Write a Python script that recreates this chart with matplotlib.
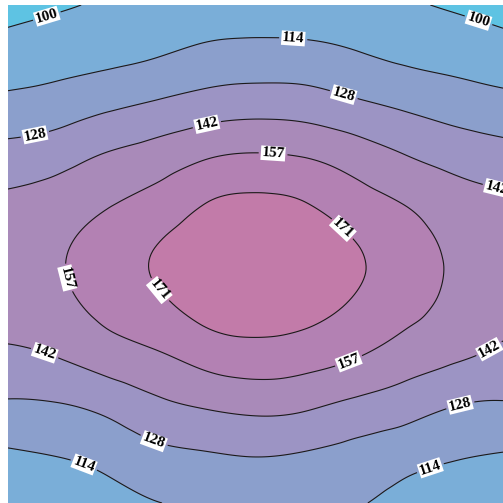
import numpy as np
import matplotlib
matplotlib.use('Agg')
import matplotlib.pyplot as plt
import matplotlib.tri as mtri

plt.rcParams['font.family'] = ['Liberation Serif', 'DejaVu Serif']

# grid positions (columns left->right, rows top->bottom)
col_pos = np.arange(11)
row_pos = np.arange(11)

# values, one list per row (top to bottom)
row_0 = [95.5, 98.5, 101.5, 103.5, 105.0, 105.5, 105.0, 103.5, 101.5, 98.5, 95.0]
row_1 = [105.8, 108.3, 110.5, 113.5, 117.8, 119.3, 118.8, 115.5, 111.5, 109.0, 106.0]
row_2 = [118.1, 120.8, 125.7, 130.4, 134.8, 136.8, 135.8, 131.1, 126.4, 122.1, 118.9]
row_3 = [133.5, 136.9, 143.6, 148.5, 155.1, 157.8, 155.9, 150.0, 142.9, 137.2, 133.6]
row_4 = [146.0, 150.0, 156.2, 162.9, 171.7, 174.5, 172.0, 164.0, 157.0, 149.7, 145.9]
row_5 = [150.8, 155.8, 163.3, 172.3, 179.0, 181.7, 179.3, 172.9, 163.9, 155.4, 150.8]
row_6 = [149.1, 153.8, 161.2, 168.7, 176.6, 179.2, 176.9, 170.1, 162.0, 154.2, 149.0]
row_7 = [140.7, 144.0, 150.7, 156.1, 163.2, 166.3, 164.1, 158.9, 151.3, 145.8, 140.1]
row_8 = [127.2, 128.3, 133.2, 140.4, 145.1, 147.8, 146.0, 140.5, 135.7, 129.6, 127.8]
row_9 = [112.9, 115.1, 119.2, 125.5, 128.0, 129.7, 128.0, 124.8, 120.4, 116.2, 114.0]
row_10 = [101.0, 104.0, 108.0, 113.9, 116.0, 117.5, 116.0, 115.3, 109.5, 104.0, 101.0]

levels = [100.0, 100 + 100 / 7, 100 + 200 / 7, 100 + 300 / 7, 100 + 400 / 7, 100 + 500 / 7]
fill_colors = ['#5ec3e3', '#7aaed8', '#8b9fcc', '#9c94c4', '#a98ab9', '#b381b3', '#c27ba9']

Z = np.array([row_0, row_1, row_2, row_3, row_4, row_5, row_6, row_7, row_8, row_9, row_10])
X, Y = np.meshgrid(col_pos, row_pos)

tri = mtri.Triangulation(X.ravel(), Y.ravel())
refiner = mtri.UniformTriRefiner(tri)
tri_f, z_f = refiner.refine_field(Z.ravel(), subdiv=4)

fig = plt.figure(figsize=(5.03, 5.03), dpi=100)
ax = fig.add_axes([8 / 503, 0, 495 / 503, 498 / 503])

fill_levels = [60.0] + levels + [220.0]
ax.tricontourf(tri_f, z_f, levels=fill_levels, colors=fill_colors)
cs = ax.tricontour(tri_f, z_f, levels=levels, colors='#1a1a1a', linewidths=0.8)

# label spots (pixel positions in the picture -> data units)
label_px = [(48, 20), (477, 25),
            (293, 42), (85, 462), (430, 467),
            (35, 135), (343, 97), (155, 438), (460, 404),
            (207, 125), (497, 187), (45, 352), (487, 345),
            (273, 155), (67, 278), (349, 362),
            (345, 226), (157, 292)]
label_pos = [((px - 8) / 49.5, (py - 5) / 49.8) for px, py in label_px]

ax.set_xlim(0, 10)
ax.set_ylim(10, 0)

texts = ax.clabel(cs, fmt='%d', manual=label_pos, inline=True,
                  inline_spacing=3, fontsize=11, colors='black')
for t in texts:
    t.set_fontweight('bold')
    t.set_bbox(dict(facecolor='white', edgecolor='none', pad=0.6))

ax.axis('off')
fig.savefig('out.png', dpi=100)
